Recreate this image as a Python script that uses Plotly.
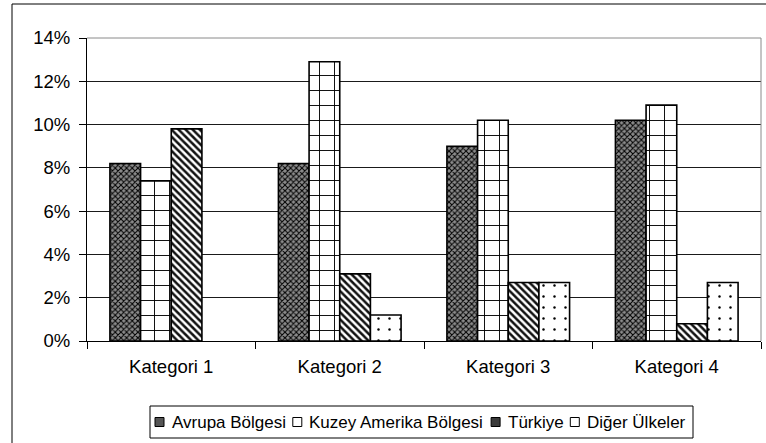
import plotly.graph_objects as go

# Category labels and series values (shares, as fractions)
categories = ["Kategori 1", "Kategori 2", "Kategori 3", "Kategori 4"]
series_names = ["Avrupa Bölgesi", "Kuzey Amerika Bölgesi", "Türkiye", "Diğer Ülkeler"]
avrupa = [0.082, 0.082, 0.090, 0.102]
kuzey_amerika = [0.074, 0.129, 0.102, 0.109]
turkiye = [0.098, 0.031, 0.027, 0.008]
diger = [None, 0.012, 0.027, 0.027]
y_ticks = [0, 0.02, 0.04, 0.06, 0.08, 0.10, 0.12, 0.14]

W, H = 766, 443
M_L, M_R, M_T, M_B = 87, 5, 38, 102
PW, PH = W - M_L - M_R, H - M_T - M_B


def px_x(px):
    return (px - M_L) / PW


def px_y(py):
    return (H - M_B - py) / PH


FONT = "Liberation Sans, Arial, sans-serif"

styles = [
    dict(shape="x", fgcolor="#000000", bgcolor="#8c8c8c", size=4, solidity=0.45),
    dict(shape="+", fgcolor="#000000", bgcolor="#ffffff", size=15, solidity=0.12),
    dict(shape="\\", fgcolor="#111111", bgcolor="#ffffff", size=5, solidity=0.5),
    dict(shape=".", fgcolor="#000000", bgcolor="#ffffff", size=11, solidity=0.04),
]
values = [avrupa, kuzey_amerika, turkiye, diger]

fig = go.Figure()
for name, vals, st in zip(series_names, values, styles):
    fig.add_trace(go.Bar(
        name=name, x=categories, y=vals,
        marker=dict(color=st["bgcolor"], line=dict(color="#000000", width=1.6),
                    pattern=dict(shape=st["shape"], fgcolor=st["fgcolor"],
                                 bgcolor=st["bgcolor"], size=st["size"],
                                 solidity=st["solidity"], fillmode="replace")),
        showlegend=False,
    ))

shapes = []
annotations = []

# outer chart frame (runs off the right and bottom edges)
shapes.append(dict(type="rect", xref="paper", yref="paper",
                   x0=px_x(12), x1=px_x(W + 5), y0=px_y(H + 5), y1=px_y(4),
                   line=dict(color="#000000", width=1), fillcolor="rgba(0,0,0,0)",
                   layer="above"))
# plot-area top and right edge
shapes.append(dict(type="line", xref="paper", yref="paper", x0=0, x1=1, y0=1, y1=1,
                   line=dict(color="#8a8a8a", width=1)))
shapes.append(dict(type="line", xref="paper", yref="paper", x0=1, x1=1, y0=0, y1=1,
                   line=dict(color="#8a8a8a", width=1)))

# legend box with swatches and labels
text_w = [114.3, 174.8, 55.7, 98.2]
box_l, box_t, box_b = 150, 406, 438
cy = (box_t + box_b) / 2
x = box_l + 5
swatch_fill = ["#555555", "#ffffff", "#3a3a3a", "#ffffff"]
for name, tw, fill in zip(series_names, text_w, swatch_fill):
    shapes.append(dict(type="rect", xref="paper", yref="paper",
                       x0=px_x(x), x1=px_x(x + 9), y0=px_y(cy + 4.5), y1=px_y(cy - 4.5),
                       line=dict(color="#000000", width=1), fillcolor=fill))
    annotations.append(dict(text=name, xref="paper", yref="paper",
                            x=px_x(x + 14.5), y=px_y(cy), xanchor="left", yanchor="middle",
                            showarrow=False, font=dict(family=FONT, size=17, color="#000000")))
    x += 9 + 5.5 + tw + 9
shapes.append(dict(type="rect", xref="paper", yref="paper",
                   x0=px_x(box_l), x1=px_x(x + 1), y0=px_y(box_b), y1=px_y(box_t),
                   line=dict(color="#000000", width=1), fillcolor="rgba(0,0,0,0)"))

fig.update_layout(
    width=W, height=H,
    margin=dict(l=M_L, r=M_R, t=M_T, b=M_B, pad=0),
    paper_bgcolor="#ffffff", plot_bgcolor="#ffffff",
    barmode="group", bargap=0.272, bargroupgap=0,
    font=dict(family=FONT, size=18.5, color="#000000"),
    shapes=shapes, annotations=annotations,
    showlegend=False,
    xaxis=dict(type="category", showline=True, linecolor="#000000", linewidth=1,
               ticks="outside", tickson="boundaries", ticklen=7, tickcolor="#000000",
               showgrid=False, tickfont=dict(size=18.5), ticklabelstandoff=9,
               fixedrange=True),
    yaxis=dict(range=[0, 0.14], tickvals=y_ticks, tickformat=".0%",
               showline=True, linecolor="#000000", linewidth=1,
               ticks="outside", ticklen=7, tickcolor="#000000",
               showgrid=True, gridcolor="#1a1a1a", gridwidth=1, zeroline=False,
               tickfont=dict(size=18.5), ticklabelstandoff=5, fixedrange=True),
)

fig.write_html("out.html")
